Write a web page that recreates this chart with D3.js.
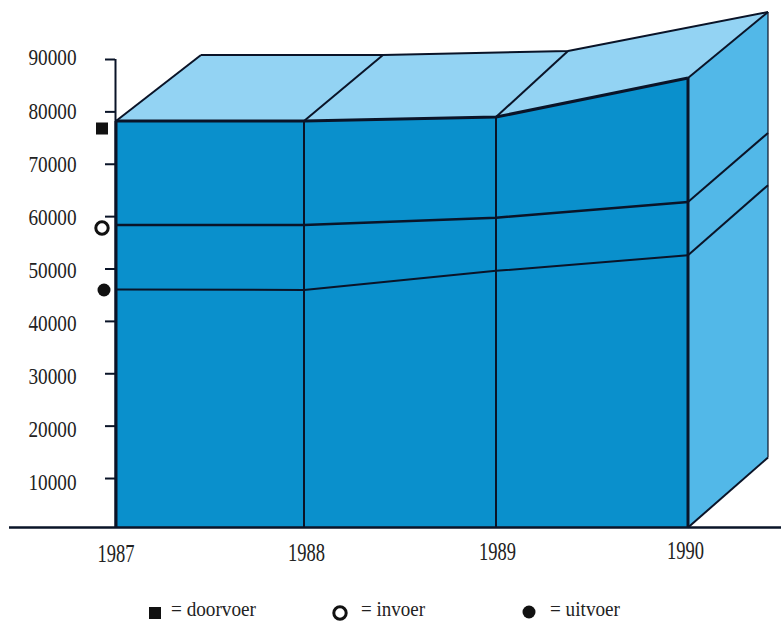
<!DOCTYPE html>
<html><head><meta charset="utf-8">
<script src="https://cdn.jsdelivr.net/npm/d3@7"></script>
<style>html,body{margin:0;padding:0;background:#fff;overflow:hidden}svg{display:block}
text{font-family:"Liberation Serif",serif;fill:#222}</style></head>
<body><svg id="c" width="781" height="621"></svg>
<script>
const years = [1987, 1988, 1989, 1990];
const doorvoer = [78160, 78160, 78920, 86370];
const invoer = [58320, 58320, 59700, 62700];
const uitvoer = [46000, 45900, 49550, 52550];
const yTicks = [10000,20000,30000,40000,50000,60000,70000,80000,90000];
const markerValues = [76730, 57730, 45900];
const legendLabels = ["= doorvoer", "= invoer", "= uitvoer"];
const baseValue = 550;

const svg = d3.select("#c");
const x = d3.scaleLinear().domain(years).range([116, 304, 496, 688]);
const xBack = d3.scaleLinear().domain(years).range([201, 383, 568, 768]);
const y = d3.scaleLinear().domain([0, 90000]).range([530.4, 59]);
const depth = -66;
const FRONT = "#0a90cc", TOP = "#93d3f3", SIDE = "#52b8e8", INK = "#0a1428";
const base = years.map(() => baseValue);

const front = (s, i) => [x(years[i]), y(s[i])];
const back = (s, i, d = depth) => [xBack(years[i]), y(s[i]) + d];
const line = d3.line();
const n = years.length - 1;

// front face
svg.append("path")
  .attr("d", d3.area().x(d => x(d.yr)).y0(y(baseValue)).y1(d => y(d.v))(years.map((yr, i) => ({yr, v: doorvoer[i]}))))
  .attr("fill", FRONT);
// top faces
d3.range(n).forEach(i => {
  svg.append("path").attr("d", line([front(doorvoer, i), front(doorvoer, i + 1), back(doorvoer, i + 1), back(doorvoer, i)]) + "Z")
    .attr("fill", TOP);
});
// side face
svg.append("path")
  .attr("d", line([front(doorvoer, n), back(doorvoer, n), back(base, n, -70), front(base, n)]) + "Z")
  .attr("fill", SIDE);

const ink = (d, w) => svg.append("path").attr("d", d).attr("fill", "none")
  .attr("stroke", INK).attr("stroke-width", w).attr("stroke-linejoin", "round");

// depth lines and back edge of top
ink(line(years.map((_, i) => back(doorvoer, i))), 2);
years.forEach((_, i) => ink(line([front(doorvoer, i), back(doorvoer, i)]), 2));
ink(line([front(invoer, n), back(invoer, n, -69)]), 2);
ink(line([front(uitvoer, n), back(uitvoer, n, -70)]), 2);
ink(line([front(base, n), back(base, n, -70)]), 2);
ink(line([back(doorvoer, n), back(base, n, -70)]), 1.2);
// verticals
years.forEach((yr, i) => ink(line([[x(yr), y(baseValue)], [x(yr), y(doorvoer[i])]]), i === 0 || i === n ? 3 : 2));
// series lines
ink(line(years.map((_, i) => front(doorvoer, i))), 3);
ink(line(years.map((_, i) => front(invoer, i))), 2.5);
ink(line(years.map((_, i) => front(uitvoer, i))), 2);

// y axis
const labelShift = d3.scaleLinear().domain([10000, 90000]).range([4, -2]);
const yAxis = svg.append("g").attr("transform", "translate(115,0)")
  .call(d3.axisLeft(y).tickValues(yTicks).tickFormat(d3.format("d")).tickSize(10).tickPadding(28.5).tickSizeOuter(0));
yAxis.select(".domain").attr("stroke", INK).attr("stroke-width", 2)
  .attr("d", line([[0.5, y(90000)], [0.5, y(baseValue)]]));
yAxis.selectAll(".tick line").attr("stroke", INK).attr("stroke-width", 2);
yAxis.selectAll("text").attr("font-family", "Liberation Serif").attr("font-size", 24).attr("fill", "#222")
  .attr("dy", "0.33em").attr("y", d => labelShift(d));

// x axis
const xLabelDx = [-0.5, 2, 1, -3], xLabelDy = [1.5, 0.5, -0.5, -1.5];
const xAxis = svg.append("g").attr("transform", `translate(0,${y(baseValue)})`)
  .call(d3.axisBottom(x).tickValues(years).tickFormat(d3.format("d")).tickSize(0).tickPadding(15));
xAxis.select(".domain").remove();
xAxis.selectAll("text").attr("font-family", "Liberation Serif").attr("font-size", 25).attr("fill", "#222")
  .attr("transform", (d, i) => `translate(${xLabelDx[i]},${xLabelDy[i]})`);
svg.append("line").attr("x1", 9).attr("x2", 781).attr("y1", y(baseValue)).attr("y2", y(baseValue))
  .attr("stroke", INK).attr("stroke-width", 2.5);

// narrow the type
function narrow(sel, k) {
  sel.each(function () {
    this.setAttribute("lengthAdjust", "spacingAndGlyphs");
    this.setAttribute("textLength", this.getComputedTextLength() * k);
  });
}
narrow(yAxis.selectAll("text"), 0.8);
narrow(xAxis.selectAll("text"), 0.74);

// markers beside the axis
const mx = [102, 102, 104];
const sym = (g, kind) => {
  if (kind === 0) g.append("rect").attr("x", -6).attr("y", -6).attr("width", 12).attr("height", 12).attr("fill", "#111");
  if (kind === 1) g.append("circle").attr("r", 6.2).attr("fill", "#fff").attr("stroke", "#111").attr("stroke-width", 3);
  if (kind === 2) g.append("circle").attr("r", 6.5).attr("fill", "#111");
};
markerValues.forEach((v, i) => sym(svg.append("g").attr("transform", `translate(${mx[i]},${y(v)})`), i));

// legend
const lgX = [155, 340, 529], lgT = [171, 361, 550], lgW = [85, 64, 70];
legendLabels.forEach((t, i) => {
  const g = svg.append("g").attr("transform", `translate(${lgX[i]},${[613, 613, 612][i]})`);
  sym(g, i);
  svg.append("text").attr("x", lgT[i]).attr("y", 616).attr("font-size", 21).text(t)
    .attr("lengthAdjust", "spacingAndGlyphs").attr("textLength", lgW[i]);
});
</script></body></html>
